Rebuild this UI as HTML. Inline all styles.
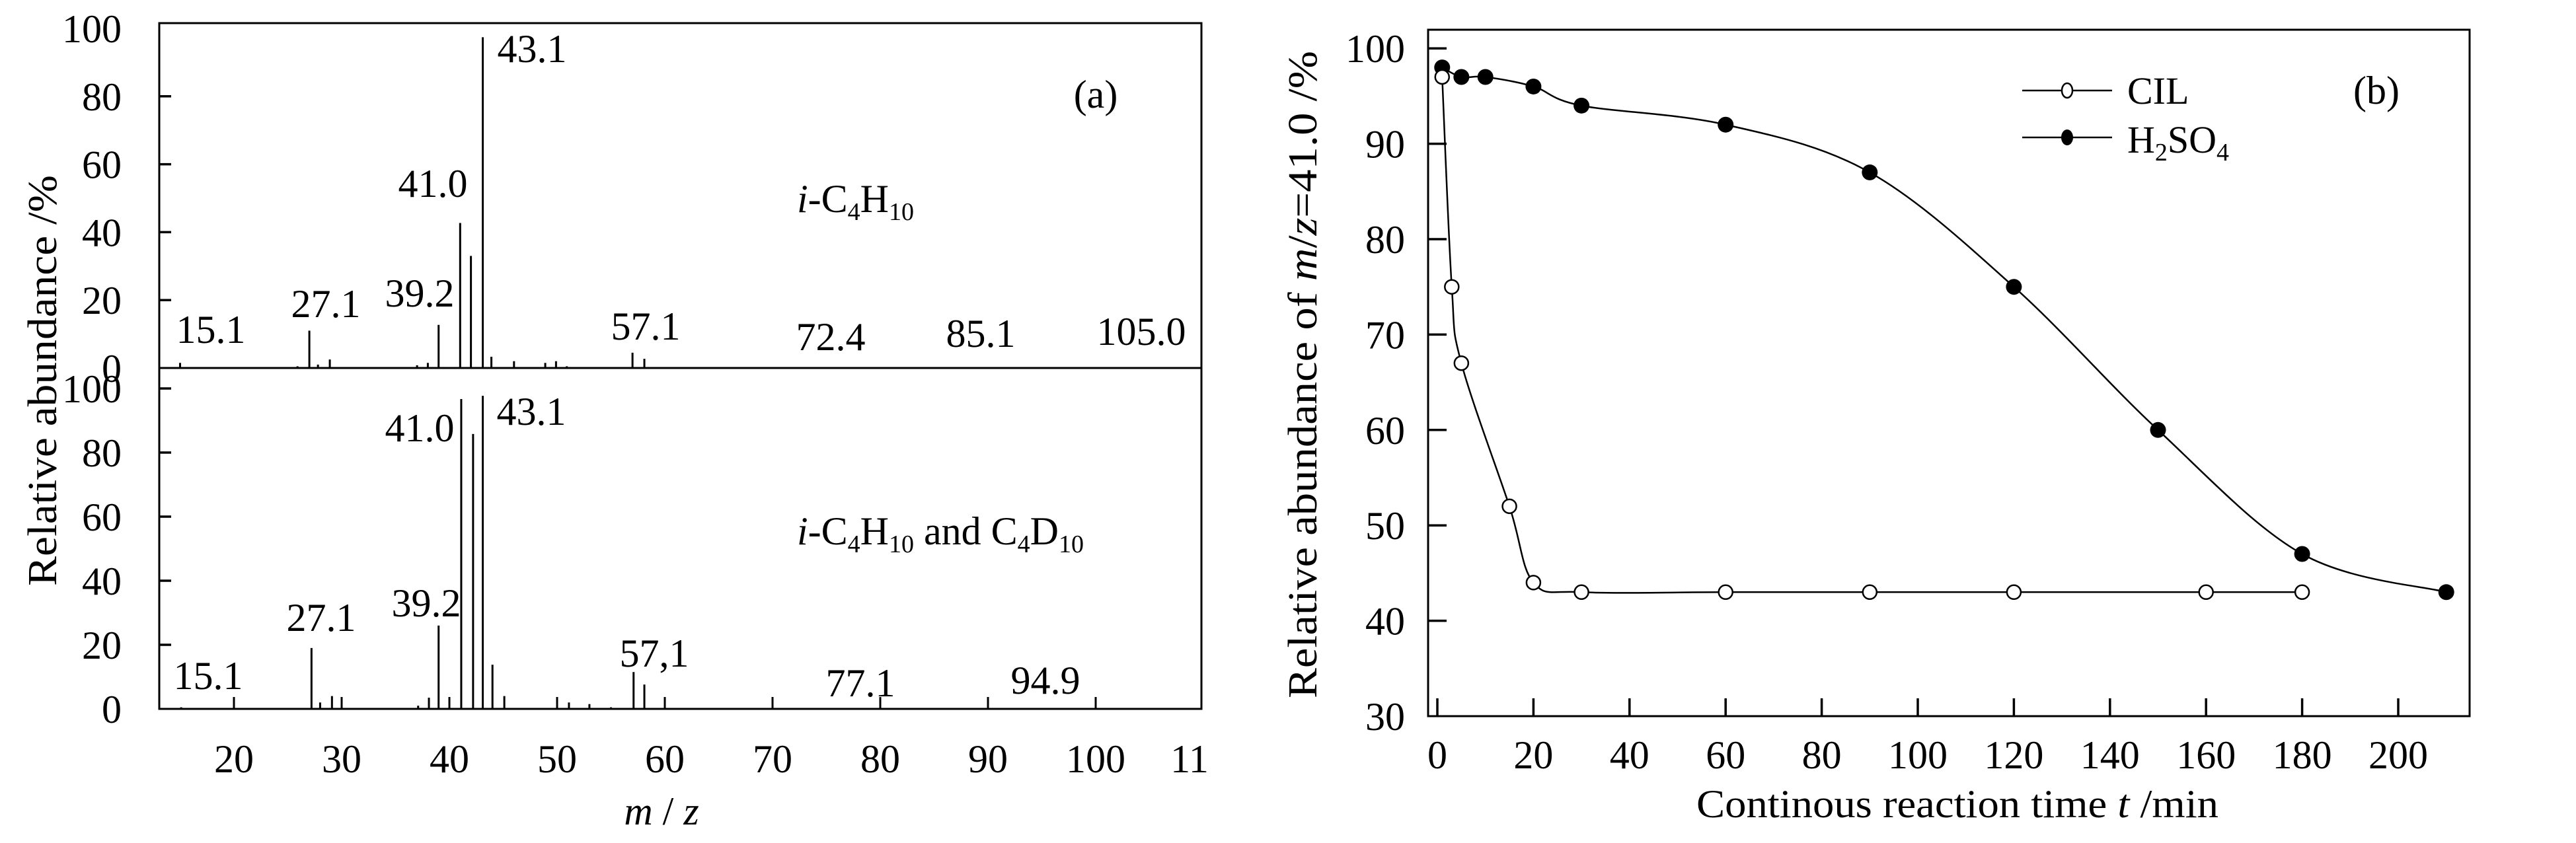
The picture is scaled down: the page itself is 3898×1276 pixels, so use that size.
<!DOCTYPE html>
<html><head><meta charset="utf-8"><style>
html,body{margin:0;padding:0;background:#fff;}
svg{display:block;font-family:"Liberation Serif",serif;}
</style></head><body>
<svg id="fig" width="3898" height="1276" viewBox="0 0 3898 1276" xmlns="http://www.w3.org/2000/svg">
<rect width="3898" height="1276" fill="#fff"/>
<g id="pa"></g>
<g id="pb"></g>
</svg>
<script>
// ---- Panel (a) data ----
const mzTicks=[20,30,40,50,60,70,80,90,100];
const mzTickLabels=["20","30","40","50","60","70","80","90","100"];
const abTicks=[0,20,40,60,80,100];
const upperMz=[15.0,25.9,27.0,27.8,28.9,37.0,38.0,39.0,41.0,42.0,43.1,43.9,46.0,48.9,49.9,50.9,57.0,58.1];
const upperAb=[1.5,0.5,11,1,2.5,0.8,1.5,12.7,42.7,33,97.4,3.3,2,1.5,2,0.5,4.5,2.7];
const lowerMz=[15.1,27.2,28.0,29.1,37.1,38.1,39.0,41.1,42.2,43.1,44.0,45.1,51.1,53.0,55.0,57.1,58.1];
const lowerAb=[0.5,19,2,4,1,3.5,26,96.7,85.8,97.7,13.8,4,2,1.5,0.5,11.5,7.6];
const upperLabels=["15.1","27.1","39.2","41.0","43.1","57.1","72.4","85.1","105.0"];
const lowerLabels=["15.1","27.1","39.2","41.0","43.1","57,1","77.1","94.9"];
// ---- Panel (b) data ----
const cilT=[1,3,5,15,20,30,60,90,120,160,180];
const cilV=[97,75,67,52,44,43,43,43,43,43,43];
const acidT=[1,5,10,20,30,60,90,120,150,180,210];
const acidV=[98,97,97,96,94,92,87,75,60,47,43];
const tTicks=[0,20,40,60,80,100,120,140,160,180,200];
const vTicks=[30,40,50,60,70,80,90,100];

const NS="http://www.w3.org/2000/svg";
function el(p,tag,attrs){const e=document.createElementNS(NS,tag);for(const k in attrs)e.setAttribute(k,attrs[k]);p.appendChild(e);return e;}
function txt(p,x,y,s,anchor,size){const t=el(p,'text',{x:x,y:y,'font-size':size||60,'text-anchor':anchor||'middle',fill:'#000'});t.textContent=s;return t;}

// ===== Panel A =====
const pa=document.getElementById('pa');
const X=m=>354+(m-20)*16.3;
const YU=v=>557-v*5.14;
const YL=v=>1073-v*4.85;
let r=el(pa,'rect',{x:241,y:35,width:1577,height:1038,fill:'none',stroke:'#000','stroke-width':3});


let mid=el(pa,'line',{x1:241,y1:557,x2:1818,y2:557,stroke:'#000','stroke-width':3});


abTicks.forEach(v=>{
  if(v>0&&v<100){const t=el(pa,'line',{x1:241,x2:259,y1:YU(v),y2:YU(v),stroke:'#000','stroke-width':3.5});
    
    }
  const l=txt(pa,184,YU(v)+21,String(v),'end');
  
  
  if(v>0){const t2=el(pa,'line',{x1:241,x2:259,y1:YL(v),y2:YL(v),stroke:'#000','stroke-width':3.5});
    
    }
  const l2=txt(pa,184,YL(v)+21,String(v),'end');
  
  
});
mzTicks.forEach((m,i)=>{
  const t=el(pa,'line',{x1:X(m),x2:X(m),y1:1073,y2:1055,stroke:'#000','stroke-width':3});
  
  
  const l=txt(pa,X(m),1169,mzTickLabels[i]);
  
  
});
{const l=txt(pa,1800,1169,"11");}
upperMz.forEach((m,i)=>{
  const b=el(pa,'line',{x1:X(m),x2:X(m),y1:557,y2:YU(upperAb[i]),stroke:'#000','stroke-width':3});
  
  
});
lowerMz.forEach((m,i)=>{
  const b=el(pa,'line',{x1:X(m),x2:X(m),y1:1073,y2:YL(lowerAb[i]),stroke:'#000','stroke-width':3});
  
  
});
const upPos=[[319,519],[493,480],[635,464],[655,298],[805,94],[977,514],[1257,530],[1484,525],[1727,522]];
upperLabels.forEach((s,i)=>{const l=txt(pa,upPos[i][0],upPos[i][1],s);
  
  });
const loPos=[[315,1043],[486,955],[645,933],[635,668],[804,643],[990,1009],[1302,1054],[1582,1050]];
lowerLabels.forEach((s,i)=>{const l=txt(pa,loPos[i][0],loPos[i][1],s);
  
  });
</script>
<svg width="0" height="0" style="position:absolute"></svg>
<script>
const fig=document.getElementById('fig');
function addHTML(p,s){const g=document.createElementNS(NS,'g');g.innerHTML=s;while(g.firstChild)p.appendChild(g.firstChild);}
addHTML(pa,`
<text x="1658" y="163" font-size="60" text-anchor="middle">(a)</text>
<text x="1206" y="321" font-size="60"><tspan font-style="italic">i</tspan>-C<tspan font-size="38" dy="12">4</tspan><tspan dy="-12">H</tspan><tspan font-size="38" dy="12">10</tspan></text>
<text x="1206" y="824" font-size="60"><tspan font-style="italic">i</tspan>-C<tspan font-size="38" dy="12">4</tspan><tspan dy="-12">H</tspan><tspan font-size="38" dy="12">10</tspan><tspan dy="-12"> and C</tspan><tspan font-size="38" dy="12">4</tspan><tspan dy="-12">D</tspan><tspan font-size="38" dy="12">10</tspan></text>
<text x="1001" y="1248" font-size="60" text-anchor="middle" font-style="italic">m <tspan font-style="normal">/</tspan> z</text>
<text transform="translate(85,576) rotate(-90)" font-size="62" text-anchor="middle" textLength="622" lengthAdjust="spacingAndGlyphs">Relative abundance  /%</text>
`);

// ===== Panel B =====
const pb=document.getElementById('pb');
const TX=t=>2175+t*7.27;
const VY=v=>1084-(v-30)*14.44;
let fb=el(pb,'rect',{x:2161,y:45,width:1576,height:1039,fill:'none',stroke:'#000','stroke-width':3});


vTicks.forEach(v=>{
  if(v>30){const t=el(pb,'line',{x1:2161,x2:2189,y1:VY(v),y2:VY(v),stroke:'#000','stroke-width':3.5});
    
    }
  const l=txt(pb,2126,VY(v)+21,String(v),'end');
  
  
});
tTicks.forEach(t=>{
  const k=el(pb,'line',{x1:TX(t),x2:TX(t),y1:1084,y2:1057,stroke:'#000','stroke-width':3.5});
  
  
  const l=txt(pb,TX(t),1163,String(t));
  
  
});
function curve(ts,vs){
  const P=ts.map((t,i)=>[TX(t),VY(vs[i])]);
  let d='M'+P[0][0]+','+P[0][1];
  for(let i=0;i<P.length-1;i++){
    const p0=P[Math.max(0,i-1)],p1=P[i],p2=P[i+1],p3=P[Math.min(P.length-1,i+2)];
    const c1=[p1[0]+(p2[0]-p0[0])/6,p1[1]+(p2[1]-p0[1])/6];
    const c2=[p2[0]-(p3[0]-p1[0])/6,p2[1]-(p3[1]-p1[1])/6];
    d+=` C${c1[0]},${c1[1]} ${c2[0]},${c2[1]} ${p2[0]},${p2[1]}`;
  }
  return d;
}
let lc=el(pb,'path',{d:curve(cilT,cilV),fill:'none',stroke:'#000','stroke-width':2.5});


let la=el(pb,'path',{d:curve(acidT,acidV),fill:'none',stroke:'#000','stroke-width':2.5});


acidT.forEach((t,i)=>{
  const c=el(pb,'circle',{cx:TX(t),cy:VY(acidV[i]),r:12,fill:'#000'});
  
  
});
cilT.forEach((t,i)=>{
  const c=el(pb,'circle',{cx:TX(t),cy:VY(cilV[i]),r:10.5,fill:'#fff',stroke:'#000','stroke-width':2.5});
  
  
});
addHTML(pb,`
<g>
<line x1="3060" y1="137" x2="3196" y2="137" stroke="#000" stroke-width="2.5"/>
<ellipse cx="3128" cy="137" rx="8" ry="11" fill="#fff" stroke="#000" stroke-width="2.5"/>
<text x="3219" y="157" font-size="58">CIL</text>
<line x1="3060" y1="208" x2="3196" y2="208" stroke="#000" stroke-width="2.5"/>
<ellipse cx="3128" cy="208" rx="9" ry="12" fill="#000"/>
<text x="3219" y="231" font-size="58">H<tspan font-size="38" dy="12">2</tspan><tspan dy="-12">SO</tspan><tspan font-size="38" dy="12">4</tspan></text>
</g>
<text x="3596" y="157" font-size="60" text-anchor="middle">(b)</text>
<text x="2962" y="1237" font-size="60" text-anchor="middle" textLength="790" lengthAdjust="spacingAndGlyphs">Continous reaction time  <tspan font-style="italic">t</tspan> /min</text>
<text transform="translate(1992,567) rotate(-90)" font-size="62" text-anchor="middle" textLength="980" lengthAdjust="spacingAndGlyphs">Relative abundance of  <tspan font-style="italic">m</tspan>/<tspan font-style="italic">z</tspan>=41.0  /%</text>
`);
</script>
</body></html>
